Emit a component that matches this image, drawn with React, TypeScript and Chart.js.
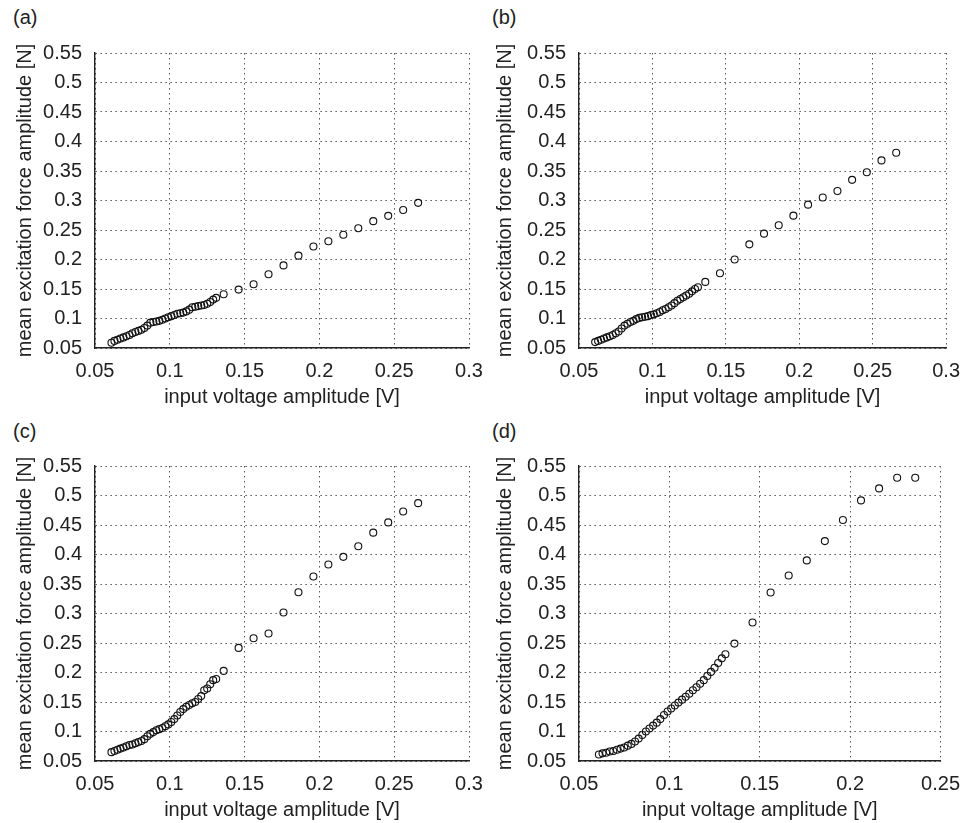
import React, { useEffect, useRef } from "react";
import { Chart, registerables } from "chart.js";

Chart.register(...registerables);

// ---- data ----
const voltage = [
  0.061, 0.063, 0.065, 0.067, 0.069, 0.071, 0.073, 0.075, 0.077, 0.079,
  0.081, 0.083, 0.085, 0.087, 0.089, 0.091, 0.093, 0.095, 0.097, 0.099,
  0.101, 0.103, 0.105, 0.107, 0.109, 0.111, 0.113, 0.115, 0.117, 0.119,
  0.121, 0.123, 0.125, 0.127, 0.129, 0.131,
  0.136, 0.146, 0.156, 0.166, 0.176, 0.186, 0.196, 0.206, 0.216, 0.226,
  0.236, 0.246, 0.256, 0.266,
];

const forceA = [
  0.059, 0.062, 0.064, 0.066, 0.068, 0.070, 0.072, 0.075, 0.077, 0.079,
  0.081, 0.084, 0.088, 0.093, 0.094, 0.095, 0.096, 0.098, 0.100, 0.102,
  0.104, 0.106, 0.108, 0.109, 0.110, 0.112, 0.115, 0.119, 0.120, 0.121,
  0.122, 0.123, 0.125, 0.128, 0.132, 0.135,
  0.141, 0.149, 0.158, 0.175, 0.190, 0.2065, 0.222, 0.231, 0.242, 0.253,
  0.265, 0.274, 0.284, 0.296,
];

const forceB = [
  0.060, 0.062, 0.064, 0.066, 0.068, 0.070, 0.072, 0.075, 0.078, 0.083,
  0.088, 0.091, 0.094, 0.096, 0.099, 0.101, 0.102, 0.103, 0.104, 0.106,
  0.107, 0.109, 0.111, 0.114, 0.116, 0.119, 0.122, 0.126, 0.130, 0.133,
  0.136, 0.139, 0.142, 0.146, 0.150, 0.153,
  0.162, 0.1766, 0.200, 0.2257, 0.2438, 0.258, 0.2743, 0.293, 0.305, 0.316,
  0.335, 0.348, 0.368, 0.381,
];

const forceC = [
  0.065, 0.067, 0.069, 0.071, 0.073, 0.075, 0.077, 0.078, 0.080, 0.082,
  0.084, 0.087, 0.092, 0.096, 0.099, 0.102, 0.104, 0.106, 0.109, 0.112,
  0.116, 0.121, 0.127, 0.133, 0.138, 0.142, 0.145, 0.148, 0.150, 0.155,
  0.160, 0.170, 0.173, 0.180, 0.187, 0.189,
  0.2027, 0.2417, 0.258, 0.266, 0.3017, 0.336, 0.3628, 0.383, 0.396, 0.414,
  0.437, 0.4544, 0.473, 0.487,
];

const forceD = [
  0.061, 0.063, 0.064, 0.066, 0.067, 0.069, 0.071, 0.073, 0.076, 0.079,
  0.083, 0.088, 0.094, 0.100, 0.105, 0.110, 0.115, 0.121, 0.128, 0.134,
  0.139, 0.144, 0.149, 0.154, 0.159, 0.164, 0.170, 0.175, 0.181, 0.187,
  0.194, 0.201, 0.208, 0.216, 0.224, 0.231,
  0.249, 0.2847, 0.3356, 0.3645, 0.390, 0.4227, 0.4584, 0.4917, 0.512, 0.530,
  0.530,
];

const xTicksWide = [0.05, 0.1, 0.15, 0.2, 0.25, 0.3];
const xTicksNarrow = [0.05, 0.1, 0.15, 0.2, 0.25];
const yTicks = [0.05, 0.1, 0.15, 0.2, 0.25, 0.3, 0.35, 0.4, 0.45, 0.5, 0.55];
const panelLetters = ["(a)", "(b)", "(c)", "(d)"];
const xTitle = "input voltage amplitude [V]";
const yTitle = "mean excitation force amplitude [N]";

// ---- layout ----
const W = 971;
const H = 823;
const FONT = "'Liberation Sans', Arial, Helvetica, sans-serif";
const FONT_SIZE = 20;
const TEXT = "#222";
const XAXIS_H = 62;

const panels = [
  { force: forceA, xTicks: xTicksWide, x0: 0, L: 95, R: 469, T: 53, B: 348, lx: 13, ly: 5 },
  { force: forceB, xTicks: xTicksWide, x0: 480, L: 579, R: 953, T: 53, B: 348, lx: 492, ly: 5 },
  { force: forceC, xTicks: xTicksWide, x0: 0, L: 95, R: 469, T: 466, B: 761, lx: 13, ly: 419 },
  { force: forceD, xTicks: xTicksNarrow, x0: 480, L: 579, R: 953, T: 466, B: 761, lx: 492, ly: 419 },
];

const fmt = (v: number) => String(parseFloat(Number(v).toFixed(3)));

function PanelChart({ idx }: { idx: number }) {
  const ref = useRef<HTMLCanvasElement | null>(null);
  useEffect(() => {
    const p = panels[idx];
    const pts = p.force.map((f, i) => ({ x: voltage[i], y: f }));
    const font = { family: FONT, size: FONT_SIZE };
    const chart = new Chart(ref.current as HTMLCanvasElement, {
      type: "scatter",
      data: {
        datasets: [
          {
            data: pts,
            pointStyle: "circle",
            pointRadius: 3.5,
            pointBorderWidth: 1.1,
            borderColor: "#111",
            backgroundColor: "rgba(0,0,0,0)",
            showLine: false,
          },
        ],
      },
      options: {
        responsive: false,
        animation: false,
        devicePixelRatio: 1,
        layout: {
          padding: { left: p.x0, top: p.T, right: W - p.R, bottom: H - p.B - XAXIS_H },
        },
        plugins: { legend: { display: false }, tooltip: { enabled: false } },
        scales: {
          x: {
            type: "linear",
            min: p.xTicks[0],
            max: p.xTicks[p.xTicks.length - 1],
            afterBuildTicks: (s: any) => {
              s.ticks = p.xTicks.map((v) => ({ value: v }));
            },
            afterFit: (s: any) => {
              s.height = XAXIS_H;
            },
            grid: { color: "#555", lineWidth: 1, drawTicks: false },
            border: { display: true, color: "#222", width: 1.4, dash: [1.5, 3.5] },
            ticks: {
              padding: 11,
              color: TEXT,
              font,
              maxRotation: 0,
              autoSkip: false,
              callback: (v: any) => fmt(v),
            },
            title: { display: true, text: xTitle, color: TEXT, font, padding: 1 },
          },
          y: {
            type: "linear",
            min: yTicks[0],
            max: yTicks[yTicks.length - 1],
            afterBuildTicks: (s: any) => {
              s.ticks = yTicks.map((v) => ({ value: v }));
            },
            afterFit: (s: any) => {
              s.width = p.L - p.x0;
            },
            grid: { color: "#555", lineWidth: 1, drawTicks: false },
            border: { display: true, color: "#222", width: 1.4, dash: [1.5, 3.5] },
            ticks: {
              padding: 13,
              color: TEXT,
              font,
              autoSkip: false,
              callback: (v: any) => fmt(v),
            },
            title: { display: true, text: yTitle, color: TEXT, font, padding: 13 },
          },
        },
      },
    } as any);
    return () => chart.destroy();
  }, [idx]);
  return (
    <canvas
      ref={ref}
      width={W}
      height={H}
      style={{ position: "absolute", left: 0, top: 0, width: W, height: H }}
    />
  );
}

export default function App() {
  return (
    <div
      style={{
        position: "absolute",
        left: 0,
        top: 0,
        width: W,
        height: H,
        background: "#fff",
        overflow: "hidden",
        fontFamily: FONT,
      }}
    >
      {panels.map((p, i) => (
        <div
          key={"l" + i}
          style={{
            position: "absolute",
            left: p.lx,
            top: p.ly,
            fontSize: FONT_SIZE,
            lineHeight: "24px",
            color: TEXT,
          }}
        >
          {panelLetters[i]}
        </div>
      ))}
      {panels.map((_, i) => (
        <PanelChart key={i} idx={i} />
      ))}
    </div>
  );
}
